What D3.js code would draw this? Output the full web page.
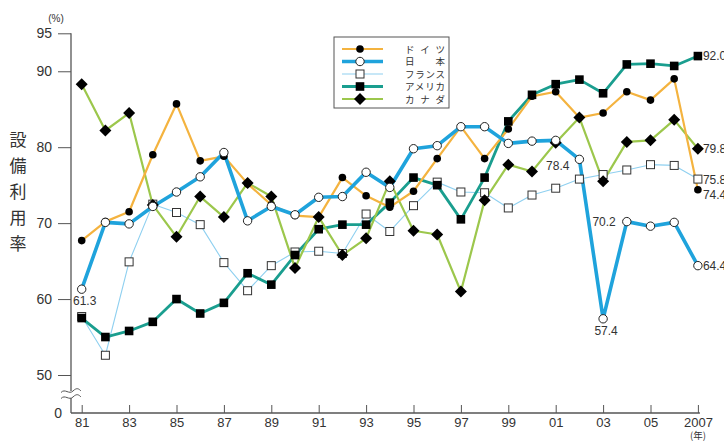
<!DOCTYPE html>
<html><head><meta charset="utf-8">
<script src="https://cdn.jsdelivr.net/npm/d3@7"></script>
<style>
body{margin:0;background:#fff;}
svg{display:block;font-family:"Liberation Sans",Arial,sans-serif;}
</style></head>
<body>
<svg id="c" width="724" height="441"></svg>
<script>
const years = d3.range(1981, 2008);
const germany = [67.7,70.2,71.5,79.0,85.7,78.2,78.8,75.2,72.4,71.0,70.8,76.0,73.6,72.1,74.2,78.5,82.7,78.5,82.4,86.7,87.3,83.9,84.5,87.3,86.2,89.0,74.4];
const japan   = [61.3,70.1,69.9,72.2,74.1,76.1,79.3,70.3,72.2,71.1,73.4,73.5,76.7,74.7,79.8,80.2,82.7,82.7,80.5,80.8,80.9,78.4,57.4,70.2,69.6,70.1,64.4];
const france  = [57.7,52.6,64.9,72.5,71.4,69.8,64.8,61.1,64.4,66.2,66.3,66.0,71.2,68.9,72.3,75.4,74.1,74.0,72.0,73.7,74.6,75.8,76.4,77.0,77.7,77.6,75.8];
const usa     = [57.5,55.0,55.8,57.0,60.0,58.1,59.5,63.4,61.9,65.8,69.2,69.8,69.8,72.7,76.0,75.0,70.5,76.0,83.4,86.9,88.3,88.9,87.1,90.9,91.0,90.7,92.0];
const canada  = [88.3,82.2,84.5,72.4,68.2,73.5,70.8,75.3,73.5,64.1,70.8,65.8,68.0,75.5,69.0,68.5,61.0,73.0,77.7,76.8,80.6,83.9,75.5,80.7,80.9,83.6,79.8];
const seriesNames = ["ドイツ","日本","フランス","アメリカ","カナダ"];
const yTicks = [50,60,70,80,90,95];
const xTicks = d3.range(1981, 2008, 2);
const xTickLabels = ["81","83","85","87","89","91","93","95","97","99","01","03","05","2007"];
// annotated values: [series index, year, text, position]
const annotations = [[1,1981,"61.3","below"],[1,2002,"78.4","belowleft"],[1,2003,"57.4","below"],[1,2004,"70.2","left"]];
// end labels: [series index, text, vertical nudge]
const endLabels = [[3,"92.0",0],[4,"79.8",0],[2,"75.8",1],[0,"74.4",5],[1,"64.4",0]];

const svg = d3.select("#c");
const x = d3.scaleLinear().domain([1981, 2007]).range([81.7, 697.9]);
const y = d3.scaleLinear().domain([50, 95]).range([375, 33.3]);
const axisX0 = 71, baseY = 413;
const txt = "#333";

const data = [germany, japan, france, usa, canada];
const styles = [
  {color:"#F4B33F", width:2.2, marker:"dot"},
  {color:"#1FA3DC", width:3.6, marker:"ocircle"},
  {color:"#8FD0F0", width:1.1, marker:"osquare"},
  {color:"#1A9E8F", width:2.8, marker:"square"},
  {color:"#9CC74C", width:2.2, marker:"diamond"}
];

// y axis
const yAxis = d3.axisLeft(y).tickValues(yTicks).tickSize(13).tickPadding(6);
const gy = svg.append("g").attr("transform",`translate(${axisX0},0)`).call(yAxis);
gy.select(".domain").remove();
gy.selectAll(".tick line").attr("stroke","#555").attr("stroke-width",1);
gy.selectAll(".tick text").attr("fill",txt).style("font-size","14px");
svg.append("line").attr("x1",axisX0).attr("x2",axisX0).attr("y1",y(95)).attr("y2",baseY).attr("stroke","#555").attr("stroke-width",1.3);
// break symbol
svg.append("rect").attr("x",axisX0-3).attr("y",391).attr("width",6).attr("height",7).attr("fill","#fff");
[391,397].forEach(yy=>{
  svg.append("path").attr("d",`M${axisX0-10},${yy+1.5} C${axisX0-6},${yy-3} ${axisX0-2},${yy+4} ${axisX0+2},${yy} S${axisX0+8},${yy-2} ${axisX0+10},${yy}`)
    .attr("fill","none").attr("stroke","#555").attr("stroke-width",1);
});
svg.append("text").attr("x",62).attr("y",baseY+5).attr("text-anchor","end").attr("fill",txt).style("font-size","14px").text("0");
svg.append("text").attr("x",56).attr("y",22).attr("text-anchor","middle").attr("fill",txt).style("font-size","10px").text("(%)");

// x axis
const xAxis = d3.axisBottom(x).tickValues(xTicks).tickSize(-8).tickPadding(5).tickFormat((d,i)=>xTickLabels[i]);
const gx = svg.append("g").attr("transform",`translate(0,${baseY})`).call(xAxis);
gx.select(".domain").remove();
gx.selectAll(".tick line").attr("stroke","#555");
gx.selectAll(".tick text").attr("fill",txt).style("font-size","13px");
svg.append("line").attr("x1",axisX0).attr("x2",x(2007)+2).attr("y1",baseY).attr("y2",baseY).attr("stroke","#555").attr("stroke-width",1.3);
svg.append("text").attr("x",x(2007)).attr("y",438.5).attr("text-anchor","middle").attr("fill",txt).style("font-size","9.5px").style("font-family","'Noto Sans CJK JP'").text("(年)");

// y title
const title = "設備利用率".split("");
svg.append("g").selectAll("text").data(title).join("text")
  .attr("x",18).attr("y",(d,i)=>146+i*26).attr("text-anchor","middle")
  .attr("fill",txt).style("font-size","17px").style("font-family","'Noto Sans CJK JP'").text(d=>d);

// markers
function drawMarker(g, type, cx, cy){
  if(type==="dot") g.append("circle").attr("cx",cx).attr("cy",cy).attr("r",3.8).attr("fill","#000");
  else if(type==="ocircle") g.append("circle").attr("cx",cx).attr("cy",cy).attr("r",4.2).attr("fill","#fff").attr("stroke","#222").attr("stroke-width",1);
  else if(type==="osquare") g.append("rect").attr("x",cx-4).attr("y",cy-4).attr("width",8).attr("height",8).attr("fill","#fff").attr("stroke","#333").attr("stroke-width",1);
  else if(type==="square") g.append("rect").attr("x",cx-4.3).attr("y",cy-4.3).attr("width",8.6).attr("height",8.6).attr("fill","#000");
  else if(type==="diamond") g.append("path").attr("d",`M${cx},${cy-6}L${cx+6},${cy}L${cx},${cy+6}L${cx-6},${cy}Z`).attr("fill","#000");
}

const line = d3.line().x((d,i)=>x(years[i])).y(d=>y(d));
const order = [2,3,4,0,1];
order.forEach(si=>{
  svg.append("path").datum(data[si]).attr("d",line).attr("fill","none")
    .attr("stroke",styles[si].color).attr("stroke-width",styles[si].width).attr("stroke-linejoin","round");
});
order.forEach(si=>{
  const g = svg.append("g");
  data[si].forEach((v,i)=>drawMarker(g, styles[si].marker, x(years[i]), y(v)));
});

// annotations
annotations.forEach(([si,yr,t,pos])=>{
  const v = data[si][years.indexOf(yr)];
  const px = x(yr), py = y(v);
  let tx=px, ty=py, anchor="middle";
  if(pos==="below"){ tx = px+3; ty = py+16; }
  if(pos==="belowleft"){ tx = px-10; ty = py+11; anchor="end"; }
  if(pos==="left"){ tx = px-11; ty = py+4; anchor="end"; }
  svg.append("text").attr("x",tx).attr("y",ty).attr("text-anchor",anchor).attr("fill",txt).style("font-size","12px").text(t);
});
endLabels.forEach(([si,t,dy])=>{
  const v = data[si][data[si].length-1];
  svg.append("text").attr("x",x(2007)+5).attr("y",y(v)+4+dy).attr("fill",txt).style("font-size","12px").text(t);
});

// legend
const lg = svg.append("g");
lg.append("rect").attr("x",334).attr("y",37).attr("width",115).attr("height",71).attr("fill","#fff").attr("stroke","#555").attr("stroke-width",1);
const rowY = [49,61.5,74,86.5,99];
const legendOrder = [0,1,2,3,4];
legendOrder.forEach((si,k)=>{
  const ry = rowY[k];
  lg.append("line").attr("x1",342).attr("x2",383).attr("y1",ry).attr("y2",ry).attr("stroke",styles[si].color).attr("stroke-width",styles[si].width);
  drawMarker(lg, styles[si].marker, 360, ry);
  lg.append("text").attr("x",405).attr("y",ry+3.5).attr("fill",txt).style("font-size","9.5px")
    .style("font-family","'Noto Sans CJK JP'").attr("textLength",40).attr("lengthAdjust","spacing").text(seriesNames[si]);
});
</script>
</body></html>
